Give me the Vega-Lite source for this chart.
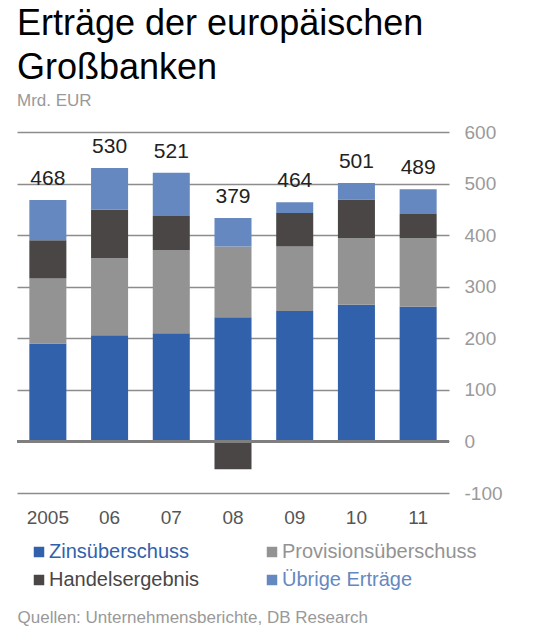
{
  "$schema": "https://vega.github.io/schema/vega-lite/v6.json",
  "autosize": {"type": "none"},
  "width": 432,
  "height": 361,
  "padding": {"left": 17, "top": 132, "right": 85, "bottom": 135},
  "background": "white",
  "config": {"font": "Liberation Sans", "view": {"stroke": null}},
  "title": {
    "text": ["Erträge der europäischen", "Großbanken"],
    "subtitle": "Mrd. EUR",
    "anchor": "start",
    "frame": "group",
    "fontSize": 36,
    "fontWeight": "normal",
    "color": "#000000",
    "lineHeight": 44,
    "subtitleFontSize": 17,
    "subtitleColor": "#999999",
    "subtitlePadding": 6,
    "offset": 13
  },
  "data": {
    "values": [
      {"year": "2005", "series": "Zinsüberschuss", "ord": 1, "value": 190},
      {"year": "2005", "series": "Provisionsüberschuss", "ord": 2, "value": 126},
      {"year": "2005", "series": "Handelsergebnis", "ord": 3, "value": 74},
      {"year": "2005", "series": "Übrige Erträge", "ord": 4, "value": 78},
      {"year": "06", "series": "Zinsüberschuss", "ord": 1, "value": 206},
      {"year": "06", "series": "Provisionsüberschuss", "ord": 2, "value": 149},
      {"year": "06", "series": "Handelsergebnis", "ord": 3, "value": 94},
      {"year": "06", "series": "Übrige Erträge", "ord": 4, "value": 81},
      {"year": "07", "series": "Zinsüberschuss", "ord": 1, "value": 210},
      {"year": "07", "series": "Provisionsüberschuss", "ord": 2, "value": 161},
      {"year": "07", "series": "Handelsergebnis", "ord": 3, "value": 66},
      {"year": "07", "series": "Übrige Erträge", "ord": 4, "value": 84},
      {"year": "08", "series": "Zinsüberschuss", "ord": 1, "value": 241},
      {"year": "08", "series": "Provisionsüberschuss", "ord": 2, "value": 137},
      {"year": "08", "series": "Handelsergebnis", "ord": 3, "value": -54},
      {"year": "08", "series": "Übrige Erträge", "ord": 4, "value": 55},
      {"year": "09", "series": "Zinsüberschuss", "ord": 1, "value": 253},
      {"year": "09", "series": "Provisionsüberschuss", "ord": 2, "value": 125},
      {"year": "09", "series": "Handelsergebnis", "ord": 3, "value": 65},
      {"year": "09", "series": "Übrige Erträge", "ord": 4, "value": 21},
      {"year": "10", "series": "Zinsüberschuss", "ord": 1, "value": 265},
      {"year": "10", "series": "Provisionsüberschuss", "ord": 2, "value": 129},
      {"year": "10", "series": "Handelsergebnis", "ord": 3, "value": 75},
      {"year": "10", "series": "Übrige Erträge", "ord": 4, "value": 32},
      {"year": "11", "series": "Zinsüberschuss", "ord": 1, "value": 261},
      {"year": "11", "series": "Provisionsüberschuss", "ord": 2, "value": 133},
      {"year": "11", "series": "Handelsergebnis", "ord": 3, "value": 47},
      {"year": "11", "series": "Übrige Erträge", "ord": 4, "value": 48}
    ]
  },
  "layer": [
    {
      "mark": {"type": "bar"},
      "encoding": {
        "x": {
          "field": "year", "type": "nominal", "sort": null,
          "scale": {"paddingInner": 0.4, "paddingOuter": 0.2},
          "axis": {
            "labelAngle": 0, "labelFontSize": 19, "labelColor": "#555555",
            "labelPadding": 15, "domain": false, "ticks": false,
            "title": "Quellen: Unternehmensberichte, DB Research",
            "titleFontSize": 17, "titleFontWeight": "normal", "titleColor": "#999999",
            "titleAnchor": "start", "titleAlign": "left", "titlePadding": 82
          }
        },
        "y": {
          "field": "value", "type": "quantitative", "stack": "zero",
          "scale": {"domain": [-100, 600], "nice": false},
          "axis": {
            "orient": "right", "values": [-100, 0, 100, 200, 300, 400, 500, 600],
            "labelExpr": "replace(datum.label, '−', '-')",
            "grid": true, "gridColor": "#8c8c8c", "gridWidth": 1.5,
            "domain": false, "ticks": false, "labelFontSize": 19,
            "labelColor": "#9a9a9a", "labelPadding": 15, "title": null
          }
        },
        "color": {
          "field": "series", "type": "nominal",
          "scale": {
            "domain": ["Zinsüberschuss", "Handelsergebnis", "Provisionsüberschuss", "Übrige Erträge"],
            "range": ["#3161ab", "#4a4646", "#939393", "#6688c0"]
          },
          "legend": {
            "orient": "none", "legendX": 12, "legendY": 410, "columns": 2,
            "title": null, "padding": 0, "symbolType": "square", "symbolSize": 110,
            "symbolStrokeWidth": 0, "symbolOpacity": 1, "labelFontSize": 20,
            "labelOffset": 0, "rowPadding": 8, "columnPadding": 62, "labelLimit": 300,
            "encode": {"labels": {"update": {"fill": {"scale": "color", "field": "value"}}}}
          }
        },
        "order": {"field": "ord", "type": "quantitative"}
      }
    },
    {
      "mark": {"type": "rule", "color": "#7f7f7f", "strokeWidth": 3},
      "encoding": {"y": {"datum": 0}}
    },
    {
      "transform": [
        {"joinaggregate": [{"op": "sum", "field": "value", "as": "total"}], "groupby": ["year"]},
        {"filter": "datum.value > 0"},
        {"aggregate": [{"op": "sum", "field": "value", "as": "top"}, {"op": "max", "field": "total", "as": "total"}], "groupby": ["year"]}
      ],
      "mark": {"type": "text", "baseline": "bottom", "dy": -11, "fontSize": 21, "color": "#222222"},
      "encoding": {
        "x": {"field": "year", "type": "nominal", "sort": null},
        "y": {"field": "top", "type": "quantitative"},
        "text": {"field": "total", "type": "quantitative"}
      }
    }
  ]
}
